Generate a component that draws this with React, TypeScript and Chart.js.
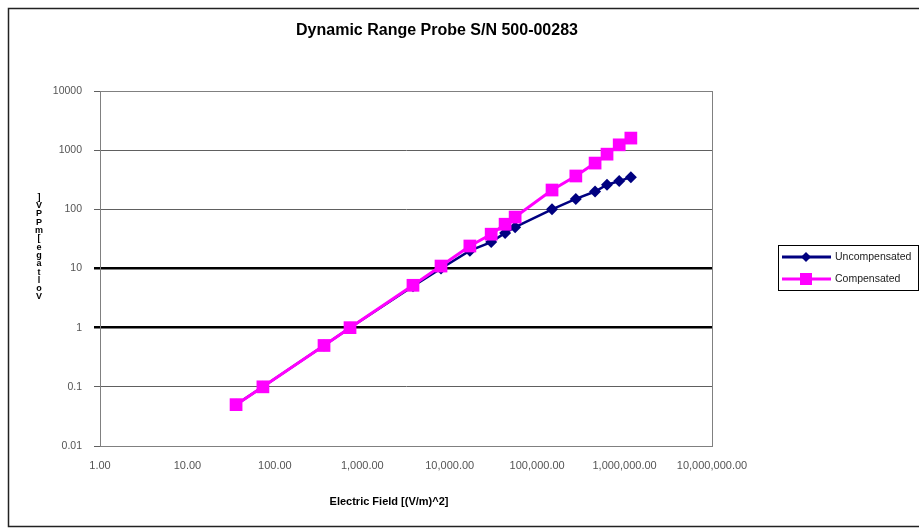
import React, { useEffect, useRef } from "react";
import { Chart, registerables } from "chart.js";

Chart.register(...registerables);

const chartTitle = "Dynamic Range Probe S/N 500-00283";
const xAxisTitle = "Electric Field [(V/m)^2]";
const yAxisTitle = "Voltage [mPPV]";
const seriesNames = ["Uncompensated", "Compensated"];

const electricField = [36, 73, 365, 724, 3800, 7950, 17000, 29800, 43000, 56000, 148000, 277000, 460000, 630000, 868000, 1180000];
const uncompensated = [0.05, 0.1, 0.5, 1, 5, 10, 20, 28, 40, 50, 100, 150, 200, 260, 300, 350];
const compensated = [0.05, 0.1, 0.5, 1, 5.2, 11, 24, 38, 56, 74, 212, 366, 605, 856, 1230, 1600];

const xTickValues = [1, 10, 100, 1000, 10000, 100000, 1000000, 10000000];
const yTickValues = [0.01, 0.1, 1, 10, 100, 1000, 10000];
const heavyGridValues = [1, 10];

const NAVY = "#000080";
const MAGENTA = "#FF00FF";
const FONT = "'Liberation Sans', Arial, sans-serif";

const decorPlugin = {
  id: "decor",
  beforeDatasetsDraw(chart: any) {
    const { ctx, chartArea } = chart;
    ctx.save();
    ctx.strokeStyle = "#808080";
    ctx.lineWidth = 1;
    ctx.strokeRect(
      Math.round(chartArea.left) + 0.5,
      Math.round(chartArea.top) + 0.5,
      Math.round(chartArea.right - chartArea.left),
      Math.round(chartArea.bottom - chartArea.top)
    );
    ctx.restore();
  },
  afterDraw(chart: any) {
    const { ctx } = chart;
    ctx.save();
    // outer chart frame
    ctx.strokeStyle = "#222";
    ctx.lineWidth = 1.5;
    ctx.strokeRect(8.5, 8.5, 940, 518);

    // title
    ctx.fillStyle = "#000";
    ctx.font = `bold 16px ${FONT}`;
    ctx.textAlign = "center";
    ctx.textBaseline = "middle";
    ctx.fillText(chartTitle, 437, 31);

    // x title
    ctx.font = `bold 11px ${FONT}`;
    ctx.fillText(xAxisTitle, 389, 502);

    // y title: upright stacked characters, read bottom to top
    const chars = yAxisTitle.replace(/ /g, "").split("");
    const step = 8.3;
    const cx = 39;
    const bottomY = 297;
    ctx.font = `bold 9px ${FONT}`;
    chars.forEach((c, i) => {
      ctx.fillText(c, cx, bottomY - i * step);
    });

    // legend
    const lx = 778, ly = 245, lw = 141, lh = 46;
    ctx.fillStyle = "#fff";
    ctx.fillRect(lx, ly, lw, lh);
    ctx.strokeStyle = "#000";
    ctx.lineWidth = 1;
    ctx.strokeRect(lx + 0.5, ly + 0.5, lw - 1, lh - 1);
    const items = [
      { name: seriesNames[0], color: NAVY, y: 257, style: "diamond" },
      { name: seriesNames[1], color: MAGENTA, y: 279, style: "square" },
    ];
    items.forEach((it) => {
      ctx.strokeStyle = it.color;
      ctx.lineWidth = 3;
      ctx.beginPath();
      ctx.moveTo(782, it.y);
      ctx.lineTo(831, it.y);
      ctx.stroke();
      ctx.fillStyle = it.color;
      if (it.style === "square") {
        ctx.fillRect(806 - 6, it.y - 6, 12, 12);
      } else {
        ctx.beginPath();
        ctx.moveTo(806, it.y - 5);
        ctx.lineTo(811, it.y);
        ctx.lineTo(806, it.y + 5);
        ctx.lineTo(801, it.y);
        ctx.closePath();
        ctx.fill();
      }
      ctx.fillStyle = "#222";
      ctx.font = `10.5px ${FONT}`;
      ctx.textAlign = "left";
      ctx.fillText(it.name, 835, it.y + 0.5);
    });
    ctx.restore();
  },
};

export default function App() {
  const canvasRef = useRef<HTMLCanvasElement | null>(null);

  useEffect(() => {
    const canvas = canvasRef.current;
    if (!canvas) return;
    const toPoints = (ys: number[]) => electricField.map((x, i) => ({ x, y: ys[i] }));

    const chart = new Chart(canvas, {
      type: "scatter",
      data: {
        datasets: [
          {
            label: seriesNames[1],
            data: toPoints(compensated),
            showLine: true,
            borderColor: MAGENTA,
            backgroundColor: MAGENTA,
            borderWidth: 3,
            pointStyle: "rect",
            pointRadius: 9,
            pointBorderWidth: 0,
            order: 0,
          },
          {
            label: seriesNames[0],
            data: toPoints(uncompensated),
            showLine: true,
            borderColor: NAVY,
            backgroundColor: NAVY,
            borderWidth: 2.5,
            pointStyle: "rectRot",
            pointRadius: 6,
            pointBorderWidth: 0,
            order: 1,
          },
        ],
      },
      options: {
        responsive: false,
        animation: false,
        devicePixelRatio: 1,
        layout: { padding: { left: 0, top: 91, right: 207, bottom: 0 } },
        plugins: {
          legend: { display: false },
          title: { display: false },
          tooltip: { enabled: false },
        },
        scales: {
          x: {
            type: "logarithmic",
            min: 1,
            max: 10000000,
            afterBuildTicks: (scale: any) => {
              scale.ticks = xTickValues.map((v) => ({ value: v }));
            },
            afterFit: (scale: any) => {
              scale.height = 85;
            },
            grid: { display: false, drawTicks: false },
            border: { display: true, color: "#808080", width: 1 },
            ticks: {
              autoSkip: false,
              maxRotation: 0,
              padding: 13,
              color: "#555",
              font: { family: FONT, size: 11 },
              callback: (v: any) =>
                Number(v).toLocaleString("en-US", { minimumFractionDigits: 2, maximumFractionDigits: 2 }),
            },
          },
          y: {
            type: "logarithmic",
            min: 0.01,
            max: 10000,
            afterBuildTicks: (scale: any) => {
              scale.ticks = yTickValues.map((v) => ({ value: v }));
            },
            afterFit: (scale: any) => {
              scale.width = 100;
            },
            grid: {
              drawTicks: true,
              tickLength: 6,
              color: (c: any) => (c.tick && heavyGridValues.includes(c.tick.value) ? "#000" : "#606060"),
              lineWidth: (c: any) => (c.tick && heavyGridValues.includes(c.tick.value) ? 2.5 : 1),
            },
            border: { display: true, color: "#808080", width: 1 },
            ticks: {
              autoSkip: false,
              padding: 12,
              color: "#555",
              font: { family: FONT, size: 10.5 },
              callback: (v: any) => String(v),
            },
          },
        },
      },
      plugins: [decorPlugin],
    } as any);

    return () => chart.destroy();
  }, []);

  return (
    <div style={{ position: "fixed", left: 0, top: 0, width: 919, height: 531, background: "#fff" }}>
      <canvas ref={canvasRef} width={919} height={531} style={{ display: "block", width: 919, height: 531 }} />
    </div>
  );
}
